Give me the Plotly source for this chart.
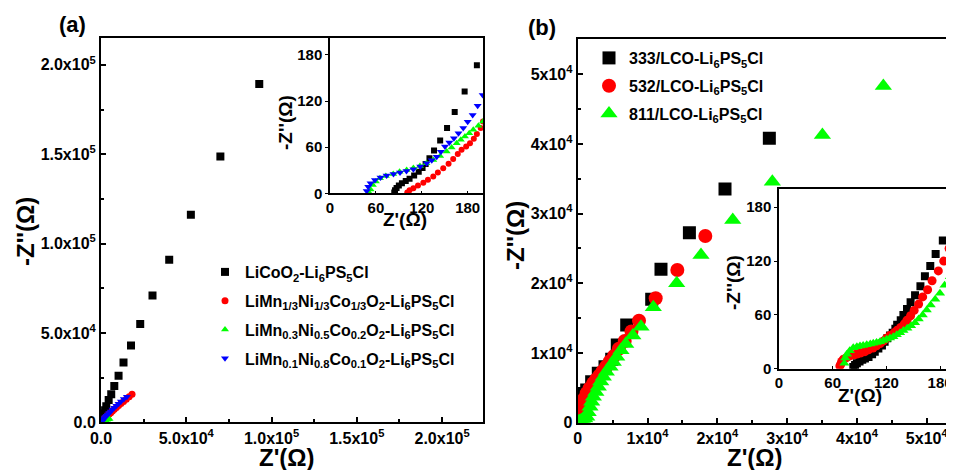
import plotly.graph_objects as go

# ---------------- Panel (a) data ----------------
a_names = [
    "LiCoO<sub>2</sub>-Li<sub>6</sub>PS<sub>5</sub>Cl",
    "LiMn<sub>1/3</sub>Ni<sub>1/3</sub>Co<sub>1/3</sub>O<sub>2</sub>-Li<sub>6</sub>PS<sub>5</sub>Cl",
    "LiMn<sub>0.3</sub>Ni<sub>0.5</sub>Co<sub>0.2</sub>O<sub>2</sub>-Li<sub>6</sub>PS<sub>5</sub>Cl",
    "LiMn<sub>0.1</sub>Ni<sub>0.8</sub>Co<sub>0.1</sub>O<sub>2</sub>-Li<sub>6</sub>PS<sub>5</sub>Cl",
]
a_lco_x = [84, 85, 87, 90, 94, 99, 104, 110, 116, 121, 125, 130, 136, 144, 153, 163, 176, 192,
           215, 250, 300, 380, 500, 680, 950, 1300, 1800, 2400, 3100, 4500, 6000, 7800, 10300,
           13200, 17600, 23000, 30200, 40000, 52700, 70000, 92800]
a_lco_y = [1, 4, 7, 10, 13, 16, 19, 23, 28, 33, 38, 45.6, 55.6, 68.6, 84.8, 105.6, 132.5, 166.5,
           215, 290, 400, 590, 900, 1400, 2200, 3300, 4900, 6800, 9000, 12500, 15700, 20300, 26100,
           33400, 42900, 55000, 70900, 90900, 116100, 148700, 189300]

a_333_x = [101, 104, 109, 115, 122, 128, 135, 141, 148, 155, 161, 167, 172, 178, 183, 188, 192, 197,
           200, 215, 240, 280, 350, 450, 600, 800, 1100, 1500, 2000, 2600, 3300, 4000, 4800, 5700,
           6700, 7800, 9000, 10300, 11700, 13200, 14800, 16500, 18200]
a_333_y = [1, 4, 6.5, 10, 13.8, 17.5, 21.7, 27, 32.6, 38.5, 44.7, 51, 56.5, 61, 65.2, 71, 77, 85,
           93.4, 118, 155, 210, 300, 420, 590, 810, 1120, 1520, 2000, 2600, 3250, 3900, 4600, 5400,
           6300, 7250, 8300, 9400, 10500, 11700, 12900, 14300, 15700]

a_532_x = [51.4, 53, 56, 60, 65.3, 73, 82.7, 91, 100.2, 109, 117.6, 126, 135, 144, 152.5, 159, 165.6,
           171, 176.4, 182, 187.3, 194, 200, 215, 240, 280, 350, 450, 600, 800, 1100, 1500, 2000,
           2700, 3500, 4300, 5000]
a_532_y = [0.5, 5, 10.8, 15.5, 19.6, 22.5, 25.2, 28, 30.4, 33, 35.6, 39, 43.4, 48.5, 54.3, 59.5, 65.2,
           69.5, 73.8, 78, 82.5, 88, 93.4, 105, 125, 150, 190, 245, 320, 420, 560, 740, 950,
           1200, 1450, 1650, 1800]

a_811_x = [48, 50, 53, 58.8, 66, 74, 83, 91.5, 100, 109, 118, 126.4, 133, 139.5, 145, 150.3, 156, 162,
           168, 174.2, 180, 186.5, 193, 199.6, 215, 240, 280, 350, 450, 600, 800, 1100, 1500, 2000,
           2600, 3300, 4000, 4800, 5700, 6700, 7800, 9000, 10300, 11700, 13400, 15200]
a_811_y = [3, 8.6, 13, 17.4, 20.5, 23, 25, 26.9, 29, 31.3, 35, 39.1, 43, 47.7, 54, 60.8, 66, 71.7,
           78, 84.8, 93, 102, 114, 128, 160, 205, 265, 360, 490, 670, 900, 1250, 1700, 2250,
           2900, 3650, 4400, 5200, 6100, 7100, 8100, 9200, 10400, 11600, 13000, 14300]

a_main_ticks = [0, 50000, 100000, 150000, 200000]
a_main_ticktext = ["0.0", "5.0x10<sup>4</sup>", "1.0x10<sup>5</sup>", "1.5x10<sup>5</sup>", "2.0x10<sup>5</sup>"]
a_inset_ticks = [0, 60, 120, 180]

# ---------------- Panel (b) data ----------------
b_names = [
    "333/LCO-Li<sub>6</sub>PS<sub>5</sub>Cl",
    "532/LCO-Li<sub>6</sub>PS<sub>5</sub>Cl",
    "811/LCO-Li<sub>6</sub>PS<sub>5</sub>Cl",
]
b_333_x = [83, 85, 87, 90, 93, 96, 100, 104, 107, 111, 115, 118, 121, 124, 127, 130, 132, 136, 139, 143,
           147, 152, 158, 163, 169, 175, 183, 192, 200, 215, 240, 280, 350, 570, 900, 1290, 2000, 2950,
           3910, 4870, 5670, 7020, 10600, 11930, 16000, 21100, 27450]
b_333_y = [2, 4, 6, 8, 10, 11.5, 13, 16, 19, 22.5, 26, 30, 34, 37, 40, 44.5, 49, 54, 60, 66.5,
           74, 82, 92, 103, 114.5, 128, 143, 163, 250, 600, 1200, 1800, 2400, 3500, 4100, 4690, 5880, 7090,
           8030, 9100, 11150, 14020, 17700, 22000, 27260, 33530, 40800]

b_532_x = [68, 69, 70, 72, 75, 77, 80, 84, 87, 91, 96, 100, 105, 109, 113, 117, 120, 124, 128.5, 132,
           136, 140, 143, 147, 151, 156, 160.5, 166, 171, 178, 184, 190, 195, 200, 210, 230, 260, 320,
           570, 900, 1290, 1700, 2240, 2650, 3100, 3550, 4050, 4600, 5200, 5900, 6730, 7700, 8780,
           11170, 14270, 18280]
b_532_y = [3, 5, 8, 10.5, 12, 13.4, 14.5, 15.5, 16.4, 17.5, 19, 21, 23, 25.5, 28, 31, 34, 37, 40, 43,
           46, 50, 54, 59, 65, 72, 80, 88, 98, 109, 120, 134, 148, 300, 700, 1100, 1500, 2000,
           2780, 3400, 4220, 4900, 5650, 6200, 6740, 7350, 8030, 8800, 9570, 10600, 11720, 13100, 14630,
           17850, 21910, 26790]

b_811_x = [73, 74, 76, 79, 83, 87, 90.5, 94, 98, 102, 105.3, 109, 112.8, 116.5, 120.3, 124, 127.7, 131.5,
           135.2, 139, 143.3, 147.5, 151.9, 156, 160.5, 165, 169.4, 174.5, 179.8, 185, 191, 197, 210,
           250, 350, 500, 700, 1000, 1290, 1500, 1760, 2000, 2240, 2600, 2950, 3300, 3670, 4100, 4630,
           5100, 5590, 6200, 6880, 7900, 9070, 10830, 14180, 17660, 22210, 27880, 35050, 43780]
b_811_y = [6, 12, 16, 20, 23.4, 24.5, 25.3, 26, 26.8, 27.5, 28.3, 29.2, 30.1, 31.3, 32.8, 34.2, 35.7, 37.8,
           40.1, 42.5, 45, 48, 51.3, 55.5, 59.9, 65.5, 71, 77.5, 84.1, 93, 102.6, 113, 140,
           180, 250, 330, 450, 620, 860, 1500, 2300, 3000, 3730, 4400, 5160, 5900, 6600, 7300, 8030,
           8700, 9470, 10400, 11290, 12500, 13770, 16560, 20000, 24060, 29080, 34580, 41280, 48300]

b_main_ticks = [0, 10000, 20000, 30000, 40000, 50000]
b_main_ticktext = ["0", "1x10<sup>4</sup>", "2x10<sup>4</sup>", "3x10<sup>4</sup>", "4x10<sup>4</sup>", "5x10<sup>4</sup>"]
b_inset_ticks = [0, 60, 120, 180]

# ---------------- layout helpers ----------------
# the page body has an 8 px margin; the figure is sized to fill the rest of the window
OFF = 8
W, H = 954 - OFF, 470 - OFF
FONT = "Liberation Sans, Arial, sans-serif"


def px(x):
    return (x - OFF) / W


def py(y):
    return 1 - (y - OFF) / H


def bold(labels):
    return ["<b>%s</b>" % t for t in labels]


fig = go.Figure()

a_series = [(a_lco_x, a_lco_y, "black", "square"),
            (a_333_x, a_333_y, "#ff0000", "circle"),
            (a_532_x, a_532_y, "#00ff00", "triangle-up"),
            (a_811_x, a_811_y, "#0000ff", "triangle-down")]
a_main_sizes = [8, 7, 7, 7]
a_inset_sizes = [6, 6, 7, 7]
for i, (xs, ys, c, sym) in enumerate(a_series):
    fig.add_trace(go.Scatter(x=xs, y=ys, mode="markers", name=a_names[i],
                             marker=dict(color=c, symbol=sym, size=a_main_sizes[i], line=dict(width=0)),
                             xaxis="x", yaxis="y", legend="legend", legendgroup="a%d" % i))
for i, (xs, ys, c, sym) in enumerate(a_series):
    fig.add_trace(go.Scatter(x=xs, y=ys, mode="markers", showlegend=False,
                             marker=dict(color=c, symbol=sym, size=a_inset_sizes[i], line=dict(width=0)),
                             xaxis="x2", yaxis="y2"))

b_series = [(b_333_x, b_333_y, "black", "square"),
            (b_532_x, b_532_y, "#ff0000", "circle"),
            (b_811_x, b_811_y, "#00ff00", "triangle-up")]
b_main_sizes = [13, 14, 15]
b_inset_sizes = [8, 9, 9]
for i, (xs, ys, c, sym) in enumerate(b_series):
    fig.add_trace(go.Scatter(x=xs, y=ys, mode="markers", name=b_names[i],
                             marker=dict(color=c, symbol=sym, size=b_main_sizes[i], line=dict(width=0)),
                             xaxis="x3", yaxis="y3", legend="legend2", legendgroup="b%d" % i))
for i, (xs, ys, c, sym) in enumerate(b_series):
    fig.add_trace(go.Scatter(x=xs, y=ys, mode="markers", showlegend=False,
                             marker=dict(color=c, symbol=sym, size=b_inset_sizes[i], line=dict(width=0)),
                             xaxis="x4", yaxis="y4"))

tickfont_main = dict(family=FONT, size=16, color="black", weight="bold")
tickfont_inset = dict(family=FONT, size=15, color="black", weight="bold")


def main_axis(domain, rng, tv, tt, anchor, dtick_minor, mirror=True):
    return dict(domain=domain, range=rng, tickvals=tv, ticktext=bold(tt), anchor=anchor, automargin=False,
                showline=True, linecolor="black", linewidth=2, mirror=mirror,
                ticks="inside", ticklen=5, tickwidth=1.5, tickcolor="black",
                minor=dict(ticks="inside", ticklen=3, tickwidth=1.5, tickcolor="black", dtick=dtick_minor,
                           tick0=0, showgrid=False),
                showgrid=False, zeroline=False, tickfont=tickfont_main, fixedrange=True)


def inset_axis(domain, rng, tv, anchor, ticks, mirror=True):
    return dict(domain=domain, range=rng, tickvals=tv, ticktext=bold([str(v) for v in tv]), anchor=anchor,
                automargin=False,
                showline=True, linecolor="black", linewidth=1.5, mirror=mirror,
                ticks=ticks, ticklen=3, tickwidth=1.2, tickcolor="black",
                showgrid=False, zeroline=False, tickfont=tickfont_inset, fixedrange=True)


a_xdom = [px(101), px(483)]
a_ydom = [py(422.3), py(38)]
ai_xdom = [px(330), px(483)]
ai_ydom = [py(193.3), py(38)]
b_xdom = [px(577.7), 1.0]
b_ydom = [py(422.7), py(39)]
bi_xdom = [px(779), 1.0]
bi_ydom = [py(368.7), py(189.3)]

fig.update_layout(
    width=W, height=H, margin=dict(l=0, r=0, t=0, b=0, autoexpand=False),
    paper_bgcolor="white", plot_bgcolor="white",
    font=dict(family=FONT, color="black"),
    xaxis=main_axis(a_xdom, [0, 224000], a_main_ticks, a_main_ticktext, "y", 25000),
    yaxis=main_axis(a_ydom, [0, 215000], a_main_ticks, a_main_ticktext, "x", 25000),
    xaxis2=inset_axis(ai_xdom, [0, 200], a_inset_ticks, "y2", "inside"),
    yaxis2=inset_axis(ai_ydom, [0, 202], a_inset_ticks, "x2", "outside"),
    xaxis3=main_axis(b_xdom, [0, 53900], b_main_ticks, b_main_ticktext, "y3", 5000),
    yaxis3=main_axis(b_ydom, [0, 55050], b_main_ticks, b_main_ticktext, "x3", 5000, mirror=False),
    xaxis4=inset_axis(bi_xdom, [0, 195.5], b_inset_ticks, "y4", "inside"),
    yaxis4=inset_axis(bi_ydom, [0, 200], b_inset_ticks, "x4", "outside", mirror=False),
    legend=dict(x=px(205), y=py(255), xanchor="left", yanchor="top", bgcolor="rgba(0,0,0,0)",
                font=dict(family=FONT, size=16, color="black", weight="bold"),
                itemsizing="trace", tracegroupgap=5, borderwidth=0),
    legend2=dict(x=px(589), y=py(41), xanchor="left", yanchor="top", bgcolor="rgba(0,0,0,0)",
                 font=dict(family=FONT, size=16, color="black", weight="bold"),
                 itemsizing="trace", tracegroupgap=4, borderwidth=0),
    showlegend=True,
)

# white backgrounds for insets
for xr, yr in [("x2", "y2"), ("x4", "y4")]:
    fig.add_shape(type="rect", xref=xr + " domain", yref=yr + " domain", x0=0, x1=1, y0=0, y1=1,
                  fillcolor="white", line=dict(width=0), layer="below")


def ann(text, x, y, size, angle=0):
    fig.add_annotation(text=text, x=px(x), y=py(y), xref="paper", yref="paper", showarrow=False,
                       textangle=angle, xanchor="center", yanchor="middle",
                       font=dict(family=FONT, size=size, color="black", weight="bold"))


ann("(a)", 72, 24, 22)
ann("(b)", 542, 28, 22)
ann("Z'(Ω)", 287, 457, 24)
ann("-Z''(Ω)", 25, 232, 24, -90)
ann("Z'(Ω)", 755, 457, 24)
ann("-Z''(Ω)", 515, 235, 24, -90)
ann("Z'(Ω)", 405, 219, 19)
ann("-Z''(Ω)", 285, 123, 19, -90)
ann("Z'(Ω)", 860, 395, 19)
ann("-Z''(Ω)", 733, 283, 19, -90)

fig.write_html("out.html")
